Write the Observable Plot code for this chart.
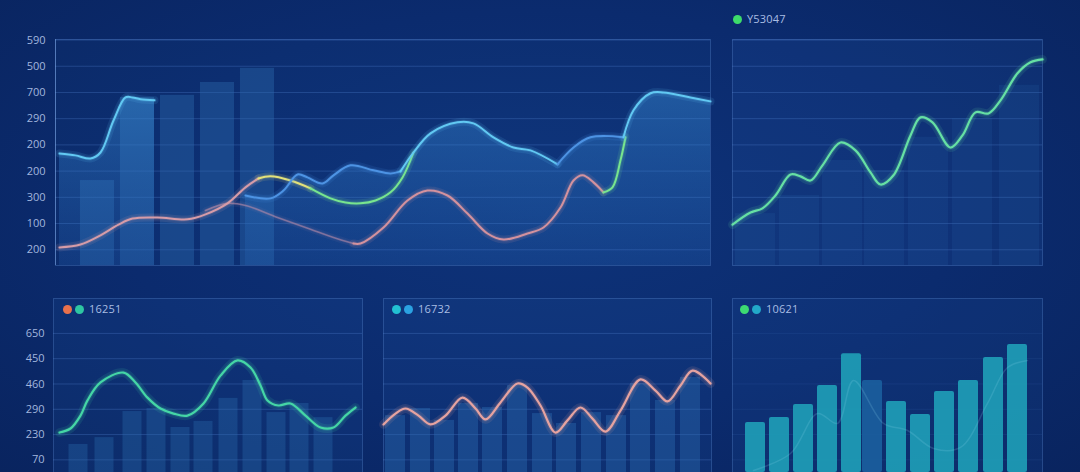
<!DOCTYPE html>
<html><head><meta charset="utf-8">
<script src="https://cdn.jsdelivr.net/npm/d3@7"></script>
<script src="https://cdn.jsdelivr.net/npm/@observablehq/plot@0.6"></script>
<style>
html,body{margin:0;padding:0;background:#0b2a6c;}
#root{position:relative;width:1080px;height:472px;overflow:hidden;
  background:radial-gradient(ellipse at 50% 45%, #0e337a 0%, #0b2b6e 55%, #09245f 100%);
  font-family:"Open Sans","Noto Sans",sans-serif;}
.panel{position:absolute;}
.legend{position:absolute;display:flex;align-items:center;font-size:11px;color:#a9bde3;height:14px;line-height:14px;}
.legend .dot{width:9px;height:9px;border-radius:50%;display:inline-block;margin-right:3px;}
.legend .txt{margin-left:2px;letter-spacing:0.2px;}
</style></head>
<body><div id="root"></div>
<script>
// ---------------- DATA ----------------
// Panel A (top-left, combined chart)
const aTickValues = [60,160,260,360,460,560,660,760,860];
const aTickLabels = ["200","100","300","200","200","290","700","500","590"];
const aBarT = [42,82,122,162,202];
const aBarV = [324,641,649,698,752];
const aCyanLeftT = [4,20,35,45,58,70,77,85,99];
const aCyanLeftV = [427,420,408,431,553,641,641,634,630];
const aBlue1T = [190,215,228,242,252,267,278,295,318,335,345];
const aBlue1V = [267,256,286,347,336,313,344,382,363,351,359];
const aCyan2T = [345,358,375,402,418,438,458,475,502];
const aCyan2V = [359,431,504,546,542,489,450,439,386];
const aBlue2T = [502,518,535,568];
const aBlue2V = [386,450,489,489];
const aCyan3T = [568,578,595,608,635,655];
const aCyan3V = [489,592,657,660,641,626];
const aPinkT = [4,25,45,63,77,102,132,150,172,190,203];
const aPinkV = [69,80,115,156,179,183,176,195,237,298,332];
const aYellowT = [203,215,235,255];
const aYellowV = [332,340,324,294];
const aGreenLT = [255,275,290,305,320,335,347,358];
const aGreenLV = [294,256,240,237,248,279,336,431];
const aMauveT = [150,172,190,222,255,278,298];
const aMauveV = [210,237,229,183,138,107,84];
const aSalmonT = [298,305,328,352,372,392,412,432,448,472,488,505,518,527,538,548];
const aSalmonV = [84,84,145,248,286,267,198,122,99,122,145,221,324,344,317,279];
const aGreenRT = [548,557,565,570];
const aGreenRV = [279,298,401,489];

// Panel B (top-right)
const bLegend = "Y53047";
const bBarT = [23,67,110,152,196,240,287];
const bBarV = [198,267,401,363,489,561,687];
const bLineT = [0,18,30,43,58,68,78,90,108,123,138,148,161,178,188,200,218,230,243,256,268,285,298,310];
const bLineV = [156,202,218,267,347,340,324,382,469,439,355,309,344,496,565,546,450,496,584,580,630,733,775,786];

// Bottom panels shared grid
const lowTickValues = [50,150,250,350,450,550];
const cTickLabels = ["70","230","290","460","450","650"];

// Panel C (bottom-left)
const cLegend = "16251";
const cBarT = [25,51,79,103,127,150,175,199,223,246,270];
const cBarV = [111,138,241,253,178,202,293,364,237,273,217];
const cLineT = [6,17,27,34,47,70,82,94,107,120,134,150,167,184,197,207,214,225,237,252,267,280,292,302];
const cLineV = [158,174,225,285,356,395,356,296,253,233,225,273,383,443,415,344,285,265,273,225,178,178,225,257];

// Panel D (bottom-middle)
const dLegend = "16732";
const dBarT = [12,37,61,85,109,134,159,183,208,233,257,282,307];
const dBarV = [225,253,206,273,257,344,233,194,237,225,352,285,376];
const dLineT = [0,12,22,35,47,62,79,92,102,117,134,144,157,172,184,197,209,222,237,257,272,284,297,309,327];
const dLineV = [190,233,253,225,190,225,296,253,210,277,352,336,265,158,206,257,213,162,245,368,324,281,344,403,352];

// Panel E (bottom-right)
const eLegend = "10621";
const eBarT = [23,47,71,95,119,140,164,188,212,236,261,285];
const eBarV = [198,217,269,344,470,364,281,229,320,364,455,506];
const eLineT = [21,58,85,105,121,151,175,201,228,255,275,295];
const eLineV = [8,75,233,194,364,194,166,95,99,273,415,443];

// ---------------- STYLE ----------------
const font = "'Open Sans','Noto Sans',sans-serif";
const gridColor = "rgba(100,150,230,0.26)";
const frameStroke = "rgba(110,160,235,0.28)";
const labelColor = "#a2b6de";
const curve = "catmull-rom";
const C = {cyan:"#62c9f3", blue:"#4d93e4", pink:"#d69ca8", yellow:"#e4e27a", green:"#78e58e",
  salmon:"#d4929e", mauve:"#b58aa8", mint:"#66e0a4", teal:"#45d6a6", rose:"#e6a3a0",
  barE:"#1e9db6", barEDim:"#1b5f9f"};

const rows = (ts, vs) => ts.map((t,i) => ({t, v: vs[i]}));
const glow = (data, color, w = 2, op = 1) => [
  Plot.line(data, {x:"t", y:"v", stroke:color, strokeWidth:w*4, strokeOpacity:0.12*op, curve}),
  Plot.line(data, {x:"t", y:"v", stroke:color, strokeWidth:w*2, strokeOpacity:0.17*op, curve}),
  Plot.line(data, {x:"t", y:"v", stroke:color, strokeWidth:w, strokeOpacity:op, curve})
];
const bars = (data, width, fill, op, rx = 0) => Plot.rect(data, {
  x1: d => d.t - width/2, x2: d => d.t + width/2, y1: 0, y2: "v",
  fill, fillOpacity: op, rx
});
const baseStyle = {background:"transparent", fontFamily:font, fontSize:"11px", color:labelColor, overflow:"visible"};

const root = document.getElementById("root");
function place(svg, left, top) {
  const wrap = document.createElement("div");
  wrap.className = "panel"; wrap.style.left = left + "px"; wrap.style.top = top + "px";
  wrap.appendChild(svg); root.appendChild(wrap);
}
function addGradient(svg, id, top, bottom) {
  const ns = "http://www.w3.org/2000/svg";
  const defs = document.createElementNS(ns, "defs");
  const g = document.createElementNS(ns, "linearGradient");
  g.setAttribute("id", id); g.setAttribute("x1", "0"); g.setAttribute("x2", "0");
  g.setAttribute("y1", "0"); g.setAttribute("y2", "1");
  [[0, top], [1, bottom]].forEach(([o, c]) => {
    const s = document.createElementNS(ns, "stop");
    s.setAttribute("offset", o); s.setAttribute("stop-color", c[0]); s.setAttribute("stop-opacity", c[1]);
    g.appendChild(s);
  });
  defs.appendChild(g); svg.insertBefore(defs, svg.firstChild);
}
function legend(left, top, colors, label) {
  const d = document.createElement("div");
  d.className = "legend"; d.style.left = left + "px"; d.style.top = top + "px";
  colors.forEach(c => { const s = document.createElement("span"); s.className = "dot"; s.style.background = c; d.appendChild(s); });
  const t = document.createElement("span"); t.className = "txt"; t.textContent = label; d.appendChild(t);
  root.appendChild(d);
}

// ---------------- PANEL A ----------------
const aTicks = aTickValues.map((v,i) => ({v, label: aTickLabels[i]}));
const aTopAll = rows(
  [...aBlue1T, ...aCyan2T.slice(1), ...aBlue2T.slice(1), ...aCyan3T.slice(1)],
  [...aBlue1V, ...aCyan2V.slice(1), ...aBlue2V.slice(1), ...aCyan3V.slice(1)]);
const svgA = Plot.plot({
  width:720, height:280, marginLeft:55, marginRight:10, marginTop:39, marginBottom:15,
  x:{domain:[0,655], axis:null}, y:{domain:[0,862], axis:null}, style:baseStyle,
  marks:[
    Plot.frame({fill:"rgba(40,95,175,0.06)", stroke:frameStroke}),
    Plot.ruleY(aTicks, {y:"v", stroke:gridColor}),
    Plot.ruleX([0], {stroke:"rgba(140,180,240,0.45)"}),
    Plot.text(aTicks, {y:"v", text:"label", frameAnchor:"left", textAnchor:"end", dx:-10, fill:labelColor}),
    bars(rows(aBarT, aBarV), 34, "#2c6cb0", 0.40),
    Plot.areaY(rows(aCyanLeftT, aCyanLeftV), {x:"t", y:"v", fill:"url(#gradA)", curve}),
    Plot.areaY(aTopAll, {x:"t", y:"v", fill:"url(#gradA)", curve}),
    ...glow(rows(aMauveT, aMauveV), C.mauve, 1.6, 0.6),
    ...glow(rows(aPinkT, aPinkV), C.pink, 2),
    ...glow(rows(aYellowT, aYellowV), C.yellow, 2),
    ...glow(rows(aGreenLT, aGreenLV), C.green, 2),
    ...glow(rows(aSalmonT, aSalmonV), C.salmon, 2),
    ...glow(rows(aGreenRT, aGreenRV), C.green, 2),
    ...glow(rows(aCyanLeftT, aCyanLeftV), C.cyan, 2),
    ...glow(rows(aBlue1T, aBlue1V), C.blue, 2),
    ...glow(rows(aCyan2T, aCyan2V), C.cyan, 2),
    ...glow(rows(aBlue2T, aBlue2V), C.blue, 2),
    ...glow(rows(aCyan3T, aCyan3V), C.cyan, 2)
  ]
});
addGradient(svgA, "gradA", ["#3f9ae4", 0.38], ["#2a6cc0", 0.20]);
place(svgA, 0, 0);

// ---------------- PANEL B ----------------
const svgB = Plot.plot({
  width:360, height:280, marginLeft:12, marginRight:38, marginTop:39, marginBottom:15,
  x:{domain:[0,310], axis:null}, y:{domain:[0,862], axis:null}, style:baseStyle,
  marks:[
    Plot.frame({fill:"rgba(45,100,185,0.14)", stroke:frameStroke}),
    Plot.ruleY(aTickValues, {stroke:gridColor}),
    bars(rows(bBarT, bBarV), 40, "#2c6cb0", 0.16),
    ...glow(rows(bLineT, bLineV), C.mint, 2.2)
  ]
});
place(svgB, 720, 0);
legend(733, 12, ["#3ddc6a"], bLegend);

// ---------------- PANEL C ----------------
const cTicks = lowTickValues.map((v,i) => ({v, label: cTickLabels[i]}));
const svgC = Plot.plot({
  width:372, height:192, marginLeft:53, marginRight:10, marginTop:18, marginBottom:0,
  x:{domain:[0,309], axis:null}, y:{domain:[0,688], axis:null}, style:baseStyle,
  marks:[
    Plot.frame({fill:"rgba(45,100,185,0.12)", stroke:frameStroke}),
    Plot.ruleY(cTicks, {y:"v", stroke:gridColor}),
    Plot.text(cTicks, {y:"v", text:"label", frameAnchor:"left", textAnchor:"end", dx:-9, fill:labelColor}),
    bars(rows(cBarT, cBarV), 19, "#2c6cb0", 0.35),
    ...glow(rows(cLineT, cLineV), C.teal, 2.2)
  ]
});
place(svgC, 0, 280);
legend(63, 302, ["#e8714c", "#2ec6a2"], cLegend);

// ---------------- PANEL D ----------------
const svgD = Plot.plot({
  width:348, height:192, marginLeft:11, marginRight:9, marginTop:18, marginBottom:0,
  x:{domain:[0,328], axis:null}, y:{domain:[0,688], axis:null}, style:baseStyle,
  marks:[
    Plot.frame({fill:"rgba(45,100,185,0.12)", stroke:frameStroke}),
    Plot.ruleY(lowTickValues, {stroke:gridColor}),
    bars(rows(dBarT, dBarV), 20, "#2c6cb0", 0.42),
    ...glow(rows(dLineT, dLineV), C.rose, 2.2)
  ]
});
place(svgD, 372, 280);
legend(392, 302, ["#22c0d2", "#2ba2e2"], dLegend);

// ---------------- PANEL E ----------------
const eDimIndex = 5;
const eBars = rows(eBarT, eBarV).map((d,i) => ({...d, dim: i === eDimIndex}));
const svgE = Plot.plot({
  width:360, height:192, marginLeft:12, marginRight:38, marginTop:18, marginBottom:0,
  x:{domain:[0,310], axis:null}, y:{domain:[0,688], axis:null}, style:baseStyle,
  marks:[
    Plot.frame({fill:"rgba(45,100,185,0.12)", stroke:frameStroke}),
    Plot.ruleY(lowTickValues, {stroke:"rgba(100,150,230,0.10)"}),
    bars(eBars.filter(d => !d.dim), 20, C.barE, 0.92, 2),
    bars(eBars.filter(d => d.dim), 20, C.barEDim, 0.9, 2),
    Plot.line(rows(eLineT, eLineV), {x:"t", y:"v", stroke:"#8fd6ee", strokeWidth:1.5, strokeOpacity:0.18, curve})
  ]
});
place(svgE, 720, 280);
legend(740, 302, ["#3ddb72", "#22a9c9"], eLegend);
</script></body></html>
